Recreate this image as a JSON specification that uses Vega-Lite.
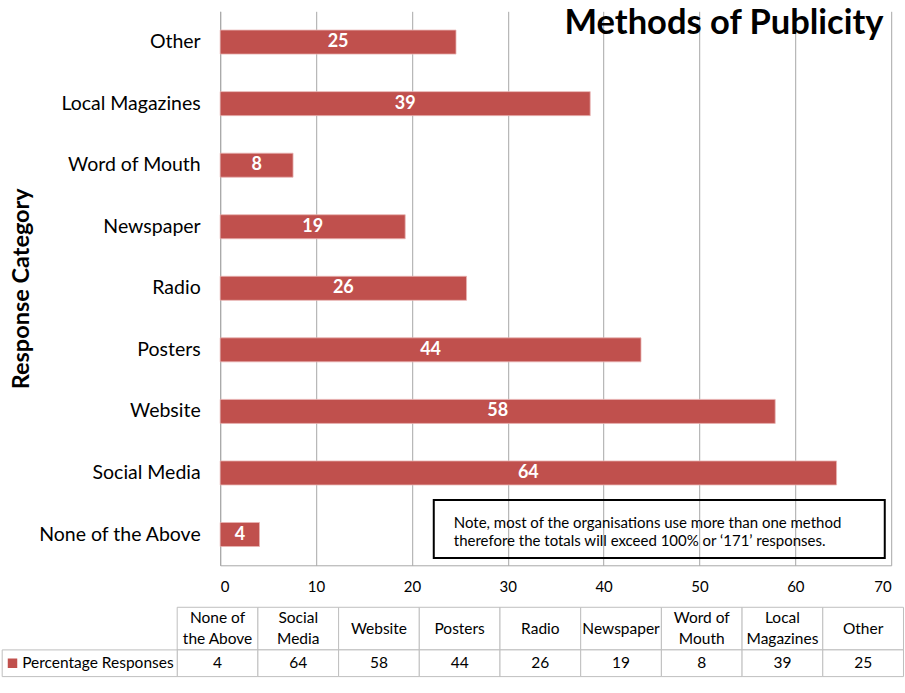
{
  "$schema": "https://vega.github.io/schema/vega-lite/v6.json",
  "background": "white",
  "padding": {"left": 1.2, "top": 5.3, "right": 0, "bottom": 5},
  "config": {"font": "Lato", "view": {"stroke": null}},
  "datasets": {
    "responses": [
      {"category": "None of the Above", "value": 4.1, "tableLabel": "None of\nthe Above"},
      {"category": "Social Media", "value": 64.3, "tableLabel": "Social\nMedia"},
      {"category": "Website", "value": 57.9, "tableLabel": "Website"},
      {"category": "Posters", "value": 43.9, "tableLabel": "Posters"},
      {"category": "Radio", "value": 25.7, "tableLabel": "Radio"},
      {"category": "Newspaper", "value": 19.3, "tableLabel": "Newspaper"},
      {"category": "Word of Mouth", "value": 7.6, "tableLabel": "Word of\nMouth"},
      {"category": "Local Magazines", "value": 38.6, "tableLabel": "Local\nMagazines"},
      {"category": "Other", "value": 24.6, "tableLabel": "Other"}
    ]
  },
  "spacing": 11,
  "vconcat": [
    {
      "width": 671,
      "height": 554,
      "data": {"name": "responses"},
      "layer": [
        {
          "layer": [
            {
              "mark": {"type": "bar", "color": "#c0504d", "stroke": "#e8b4b2", "strokeWidth": 0.8},
              "encoding": {
                "y": {"field": "category", "type": "nominal",
                  "scale": {"domain": ["Other", "Local Magazines", "Word of Mouth", "Newspaper", "Radio", "Posters", "Website", "Social Media", "None of the Above"], "paddingInner": 0.61, "paddingOuter": 0.305},
                  "axis": {"title": "Response Category", "labelFontSize": 19.5, "labelPadding": 20, "ticks": false, "tickSize": 0, "domainColor": "#a8a8a8", "titleFontSize": 23.5, "titleFontWeight": "bold", "titlePadding": 27, "minExtent": 160, "maxExtent": 160, "labelColor": "#000", "titleColor": "#000", "labelLimit": 300}},
                "x": {"field": "value", "type": "quantitative",
                  "scale": {"domain": [0, 70], "nice": false},
                  "axis": {"title": null, "values": [0, 10, 20, 30, 40, 50, 60, 70], "grid": true, "gridColor": "#a8a8a8", "ticks": false, "tickSize": 0, "labelFontSize": 15, "labelPadding": 14.5, "labelColor": "#000", "domainColor": "#a8a8a8", "format": "d"}}
              }
            },
            {
              "data": {"values": [{}]},
              "mark": {"type": "bar", "fill": "transparent", "stroke": "#000", "strokeWidth": 2, "height": 58, "yOffset": -5.4},
              "encoding": {
                "x": {"datum": 22.28, "type": "quantitative"},
                "x2": {"datum": 69.33},
                "y": {"datum": "None of the Above", "type": "nominal"}
              }
            },
            {
              "data": {"values": [{}]},
              "mark": {"type": "text", "align": "left", "baseline": "middle", "fontSize": 15, "lineHeight": 18.3, "dy": -11.6, "color": "#000",
                "text": ["Note, most of the organisations use more than one method", "therefore the totals will exceed 100% or ‘171’ responses."]},
              "encoding": {
                "x": {"datum": 24.37, "type": "quantitative"},
                "y": {"datum": "None of the Above", "type": "nominal"}
              }
            },
            {
              "data": {"values": [{}]},
              "mark": {"type": "text", "align": "right", "baseline": "alphabetic", "fontSize": 34.5, "fontWeight": "bold", "dy": -8, "color": "#000", "text": "Methods of Publicity"},
              "encoding": {
                "x": {"datum": 69.2, "type": "quantitative"},
                "y": {"datum": "Other", "type": "nominal"}
              }
            }
          ]
        },
        {
          "mark": {"type": "text", "color": "white", "fontWeight": "bold", "fontSize": 18, "baseline": "middle"},
          "encoding": {
            "x": {"field": "value", "type": "quantitative", "scale": {"domain": [0, 140], "nice": false}, "axis": null},
            "y": {"field": "category", "type": "nominal"},
            "text": {"field": "value", "type": "quantitative", "format": ".0f"}
          }
        }
      ],
      "resolve": {"scale": {"x": "independent"}}
    },
    {
      "width": 671,
      "height": 69.3,
      "data": {"name": "responses"},
      "layer": [
        {
          "mark": {"type": "rect", "fill": "white", "stroke": "#bfbfbf", "strokeWidth": 1},
          "encoding": {
            "x": {"field": "category", "type": "nominal", "scale": {"domain": ["None of the Above", "Social Media", "Website", "Posters", "Radio", "Newspaper", "Word of Mouth", "Local Magazines", "Other"], "range": [-43, 683.3], "paddingInner": 0, "paddingOuter": 0}, "axis": null},
            "y": {"datum": "hdr", "type": "nominal", "scale": {"domain": ["hdr"], "range": [0, 42.6], "paddingInner": 0, "paddingOuter": 0}, "axis": null}
          }
        },
        {
          "transform": [{"filter": {"field": "category", "oneOf": ["None of the Above", "Social Media", "Word of Mouth", "Local Magazines"]}}],
          "mark": {"type": "text", "lineBreak": "\n", "lineHeight": 20.5, "fontSize": 15.5, "color": "#000", "baseline": "middle", "dy": -10.2},
          "encoding": {
            "x": {"field": "category", "type": "nominal", "scale": {"domain": ["None of the Above", "Social Media", "Website", "Posters", "Radio", "Newspaper", "Word of Mouth", "Local Magazines", "Other"], "range": [-43, 683.3], "paddingInner": 0, "paddingOuter": 0}, "axis": null},
            "y": {"datum": "hdr", "type": "nominal", "scale": {"domain": ["hdr"], "range": [0, 42.6], "paddingInner": 0, "paddingOuter": 0}, "axis": null},
            "text": {"field": "tableLabel", "type": "nominal"}
          }
        },
        {
          "transform": [{"filter": {"not": {"field": "category", "oneOf": ["None of the Above", "Social Media", "Word of Mouth", "Local Magazines"]}}}],
          "mark": {"type": "text", "fontSize": 15.5, "color": "#000", "baseline": "middle"},
          "encoding": {
            "x": {"field": "category", "type": "nominal", "scale": {"domain": ["None of the Above", "Social Media", "Website", "Posters", "Radio", "Newspaper", "Word of Mouth", "Local Magazines", "Other"], "range": [-43, 683.3], "paddingInner": 0, "paddingOuter": 0}, "axis": null},
            "y": {"datum": "hdr", "type": "nominal", "scale": {"domain": ["hdr"], "range": [0, 42.6], "paddingInner": 0, "paddingOuter": 0}, "axis": null},
            "text": {"field": "tableLabel", "type": "nominal"}
          }
        },
        {
          "mark": {"type": "rect", "fill": "white", "stroke": "#bfbfbf", "strokeWidth": 1},
          "encoding": {
            "x": {"field": "category", "type": "nominal", "scale": {"domain": ["None of the Above", "Social Media", "Website", "Posters", "Radio", "Newspaper", "Word of Mouth", "Local Magazines", "Other"], "range": [-43, 683.3], "paddingInner": 0, "paddingOuter": 0}, "axis": null},
            "y": {"datum": "val", "type": "nominal", "scale": {"domain": ["val"], "range": [42.6, 69.3], "paddingInner": 0, "paddingOuter": 0}, "axis": null}
          }
        },
        {
          "mark": {"type": "text", "fontSize": 15.5, "color": "#000", "baseline": "middle"},
          "encoding": {
            "x": {"field": "category", "type": "nominal", "scale": {"domain": ["None of the Above", "Social Media", "Website", "Posters", "Radio", "Newspaper", "Word of Mouth", "Local Magazines", "Other"], "range": [-43, 683.3], "paddingInner": 0, "paddingOuter": 0}, "axis": null},
            "y": {"datum": "val", "type": "nominal", "scale": {"domain": ["val"], "range": [42.6, 69.3], "paddingInner": 0, "paddingOuter": 0}, "axis": null},
            "text": {"field": "value", "type": "quantitative", "format": ".0f"}
          }
        },
        {
          "data": {"values": [{}]},
          "mark": {"type": "rect", "fill": "white", "stroke": "#bfbfbf", "strokeWidth": 1},
          "encoding": {
            "x": {"datum": "Percentage Responses", "type": "nominal", "scale": {"domain": ["Percentage Responses"], "range": [-218, -43], "paddingInner": 0, "paddingOuter": 0}, "axis": null},
            "y": {"datum": "val", "type": "nominal", "scale": {"domain": ["val"], "range": [42.6, 69.3], "paddingInner": 0, "paddingOuter": 0}, "axis": null}
          }
        },
        {
          "data": {"values": [{}]},
          "mark": {"type": "point", "shape": "square", "filled": true, "color": "#c0504d", "opacity": 1, "size": 90, "xOffset": 10.3},
          "encoding": {
            "x": {"datum": 0, "type": "quantitative", "scale": {"domain": [0, 1], "range": [-218, -43], "nice": false, "zero": false}, "axis": null},
            "y": {"datum": "val", "type": "nominal", "scale": {"domain": ["val"], "range": [42.6, 69.3], "paddingInner": 0, "paddingOuter": 0}, "axis": null}
          }
        },
        {
          "data": {"values": [{}]},
          "mark": {"type": "text", "align": "left", "baseline": "middle", "fontSize": 15.5, "color": "#000", "dx": 20, "text": "Percentage Responses"},
          "encoding": {
            "x": {"datum": 0, "type": "quantitative", "scale": {"domain": [0, 1], "range": [-218, -43], "nice": false, "zero": false}, "axis": null},
            "y": {"datum": "val", "type": "nominal", "scale": {"domain": ["val"], "range": [42.6, 69.3], "paddingInner": 0, "paddingOuter": 0}, "axis": null}
          }
        }
      ],
      "resolve": {"scale": {"x": "independent", "y": "independent"}}
    }
  ]
}
